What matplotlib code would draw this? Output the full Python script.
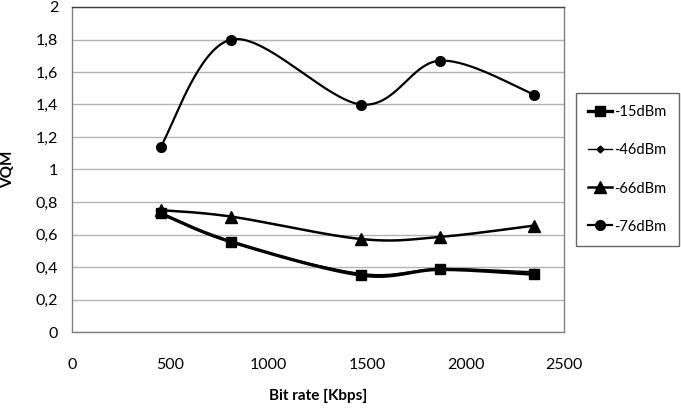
import numpy as np
import matplotlib
matplotlib.use("Agg")
import matplotlib.pyplot as plt
from matplotlib.ticker import FuncFormatter, MultipleLocator
from matplotlib.lines import Line2D

plt.rcParams['font.family'] = ['Lato', 'DejaVu Sans']

bit_rate = [450, 810, 1470, 1870, 2350]
s_15 = [0.73, 0.555, 0.35, 0.385, 0.355]
s_46 = [0.73, 0.55, 0.36, 0.39, 0.37]
s_66 = [0.75, 0.71, 0.572, 0.585, 0.655]
s_76 = [1.14, 1.80, 1.40, 1.67, 1.46]
labels = ['-15dBm', '-46dBm', '-66dBm', '-76dBm']

W, H = 681, 408
fig = plt.figure(figsize=(W / 100, H / 100), dpi=100)
ax = fig.add_axes([72 / W, 1 - 332 / H, (564 - 72) / W, (332 - 7) / H])
ax.set_xlim(0, 2500)
ax.set_ylim(0, 2)

sx = 492 / 2500
sy = 325 / 2


def smooth(xs, ys, n=40):
    P = np.column_stack([np.array(xs) * sx, np.array(ys) * sy])
    out = []
    m = len(P)
    for i in range(m - 1):
        p0 = P[i - 1] if i > 0 else P[i]
        p1 = P[i]
        p2 = P[i + 1]
        p3 = P[i + 2] if i + 2 < m else P[i + 1]
        c1 = p1 + (p2 - p0) / 6
        c2 = p2 - (p3 - p1) / 6
        t = np.linspace(0, 1, n)[:, None]
        seg = ((1 - t) ** 3) * p1 + 3 * ((1 - t) ** 2) * t * c1 + 3 * (1 - t) * t ** 2 * c2 + t ** 3 * p2
        out.append(seg if i == 0 else seg[1:])
    out = np.vstack(out)
    return out[:, 0] / sx, out[:, 1] / sy


styles = [
    dict(series=s_15, marker='s', ms=6.5, lw=2.4),
    dict(series=s_46, marker='D', ms=3.5, lw=1.0),
    dict(series=s_66, marker='^', ms=8, lw=1.8),
    dict(series=s_76, marker='o', ms=7, lw=1.6),
]

handles = []
for st, lab in zip(styles, labels):
    xs, ys = smooth(bit_rate, st['series'])
    ax.plot(xs, ys, color='black', lw=st['lw'], zorder=3)
    ax.plot(bit_rate, st['series'], linestyle='none', marker=st['marker'],
            ms=st['ms'], color='black', zorder=4)
    handles.append(Line2D([], [], color='black', lw=st['lw'], marker=st['marker'],
                          ms=st['ms']))

ax.yaxis.set_major_locator(MultipleLocator(0.2))
ax.xaxis.set_major_locator(MultipleLocator(500))
ax.yaxis.set_major_formatter(FuncFormatter(lambda v, p: ('%g' % round(v, 1)).replace('.', ',')))
ax.xaxis.set_major_formatter(FuncFormatter(lambda v, p: '%d' % v))
ax.tick_params(axis='both', length=0, labelsize=11.5, colors='black')
ax.tick_params(axis='y', pad=10)
ax.tick_params(axis='x', pad=19)
ax.grid(axis='y', color='#b3b3b3', lw=1.0)
ax.set_axisbelow(True)
for sp in ax.spines.values():
    sp.set_color('#808080')
    sp.set_linewidth(1.0)
ax.spines['top'].set_color('#404040')

ax.set_ylabel('VQM', fontsize=11, fontweight='bold')
ax.yaxis.set_label_coords((15 - 72) / 492, 0.5)
ax.set_xlabel('Bit rate [Kbps]', fontsize=11, fontweight='bold', labelpad=12)

leg = fig.legend(handles, labels, loc='upper left', bbox_to_anchor=(576 / W, 1 - 93 / H),
                 frameon=True, fancybox=False, fontsize=10.5, labelspacing=1.65,
                 handlelength=1.6, handletextpad=0.15, borderpad=0.85, borderaxespad=0)
leg.get_frame().set_edgecolor('#404040')
leg.get_frame().set_linewidth(1.0)

fig.savefig('out.png', dpi=100)
